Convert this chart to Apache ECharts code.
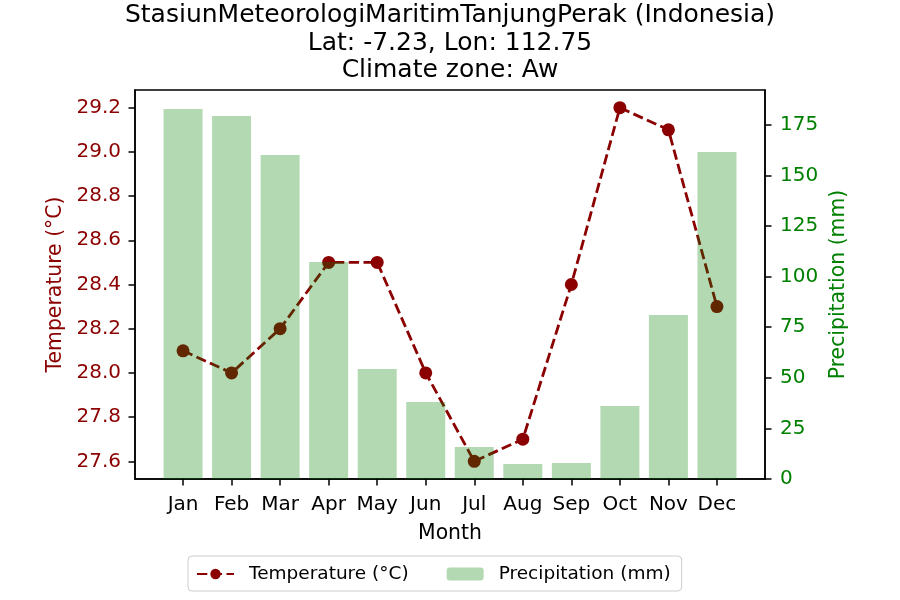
<!DOCTYPE html>
<html>
<head>
<meta charset="utf-8">
<script src="https://cdn.jsdelivr.net/npm/echarts@6/dist/echarts.min.js"></script>
<style>html,body{margin:0;padding:0;background:#fff}#c{width:900px;height:600px}</style>
</head>
<body>
<div id="c"></div>
<script>
const months = ['Jan','Feb','Mar','Apr','May','Jun','Jul','Aug','Sep','Oct','Nov','Dec'];
const temperature = [28.1, 28.0, 28.2, 28.5, 28.5, 28.0, 27.6, 27.7, 28.4, 29.2, 29.1, 28.3];
const precipitation = [182.8, 179.3, 160.0, 107.2, 54.3, 38.0, 15.8, 7.4, 7.9, 36.1, 81.0, 161.5];
const tempTicks = [27.6, 27.8, 28.0, 28.2, 28.4, 28.6, 28.8, 29.0, 29.2];
const precipTicks = [0, 25, 50, 75, 100, 125, 150, 175];
const titleLines = ['StasiunMeteorologiMaritimTanjungPerak (Indonesia)', 'Lat: -7.23, Lon: 112.75', 'Climate zone: Aw'];

const FONT = 'DejaVu Sans';
const chart = echarts.init(document.getElementById('c'), null, {renderer: 'canvas'});
const monthIdx = months.map((m, i) => i);
const tickStyle = {show: true, length: 6.5, inside: false, lineStyle: {color: '#000', width: 1.5}};

chart.setOption({
  animation: false,
  backgroundColor: '#fff',
  textStyle: {fontFamily: FONT},
  title: {
    text: titleLines.join('\n'),
    left: 'center', top: 2, padding: 0,
    textStyle: {fontFamily: FONT, fontSize: 25, fontWeight: 'normal', color: '#000', lineHeight: 27.5}
  },
  grid: {left: 135, right: 135, top: 90, bottom: 121, show: true, borderColor: '#000', borderWidth: 1.5, backgroundColor: 'transparent', containLabel: false},
  legend: {
    data: ['Temperature (°C)', 'Precipitation (mm)'],
    left: 188, top: 556,
    padding: [7, 11, 6, 8],
    itemWidth: 37, itemHeight: 13, itemGap: 38,
    borderColor: '#cccccc', borderWidth: 1, borderRadius: 4,
    backgroundColor: '#fff',
    textStyle: {fontFamily: FONT, fontSize: 18.5, color: '#000', padding: [0, 0, 0, 10], lineHeight: 22}
  },
  xAxis: {
    type: 'value', min: -0.99, max: 11.99,
    name: 'Month', nameLocation: 'middle', nameGap: 45,
    nameTextStyle: {fontFamily: FONT, fontSize: 20.4, color: '#000'},
    axisLine: {show: true, onZero: false, lineStyle: {color: '#000', width: 1.5}},
    axisTick: Object.assign({customValues: monthIdx}, tickStyle),
    axisLabel: {customValues: monthIdx, formatter: v => months[Math.round(v)], fontFamily: FONT, fontSize: 20, color: '#000', margin: 16},
    splitLine: {show: false}
  },
  yAxis: [{
    type: 'value', position: 'left', min: 27.52, max: 29.28,
    name: 'Temperature (°C)', nameLocation: 'middle', nameRotate: 90, nameGap: 69,
    nameTextStyle: {fontFamily: FONT, fontSize: 20.4, color: '#8b0000'},
    axisLine: {show: true, onZero: false, lineStyle: {color: '#000', width: 1.5}},
    axisTick: Object.assign({customValues: tempTicks}, tickStyle),
    axisLabel: {customValues: tempTicks, formatter: v => v.toFixed(1), fontFamily: FONT, fontSize: 20, color: '#8b0000', margin: 14},
    splitLine: {show: false}
  }, {
    type: 'value', position: 'right', min: 0, max: 192.15,
    name: 'Precipitation (mm)', nameLocation: 'middle', nameRotate: 90, nameGap: 64,
    nameTextStyle: {fontFamily: FONT, fontSize: 20.4, color: '#008000'},
    axisLine: {show: true, onZero: false, lineStyle: {color: '#000', width: 1.5}},
    axisTick: Object.assign({customValues: precipTicks}, tickStyle),
    axisLabel: {customValues: precipTicks, formatter: v => String(v), fontFamily: FONT, fontSize: 20, color: '#008000', margin: 15},
    splitLine: {show: false}
  }],
  series: [{
    name: 'Temperature (°C)', type: 'line', yAxisIndex: 0, z: 2,
    data: months.map((m, i) => [i, temperature[i]]),
    symbol: 'circle', symbolSize: 13,
    itemStyle: {color: '#8b0000', borderWidth: 0},
    lineStyle: {color: '#8b0000', width: 2.8, type: [10.3, 4.45]}
  }, {
    name: 'Precipitation (mm)', type: 'bar', yAxisIndex: 1, z: 3,
    data: months.map((m, i) => [i, precipitation[i]]),
    barWidth: 39,
    itemStyle: {color: 'rgba(0,128,0,0.3)'}
  }]
});
</script>
</body>
</html>
